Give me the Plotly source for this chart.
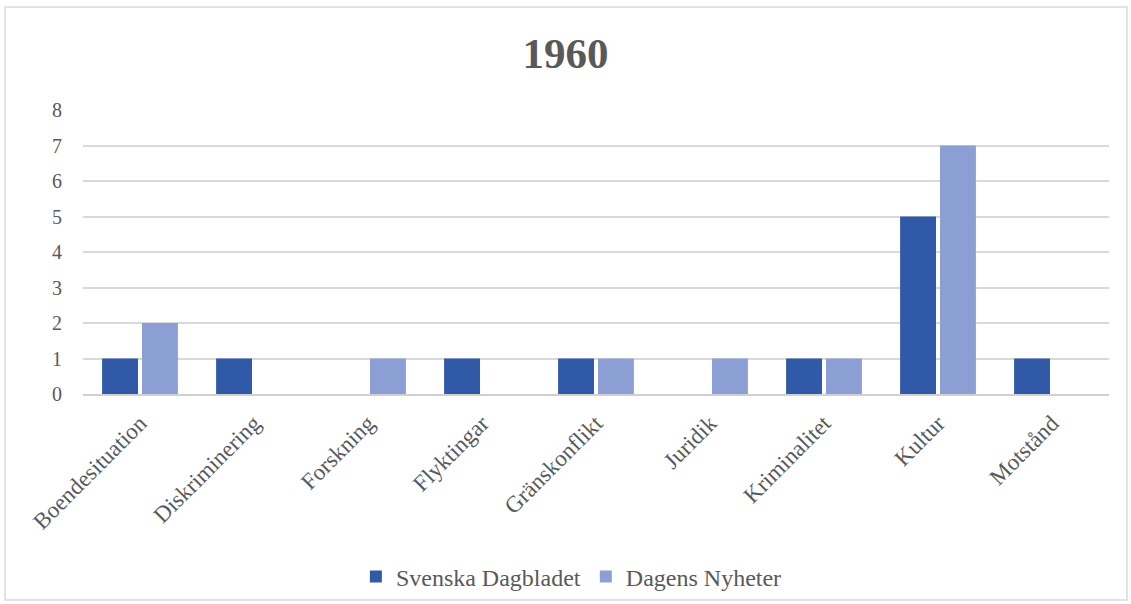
import plotly.graph_objects as go

categories = ["Boendesituation", "Diskriminering", "Forskning", "Flyktingar", "Gränskonflikt",
              "Juridik", "Kriminalitet", "Kultur", "Motstånd"]
svenska_dagbladet = [1, 1, 0, 1, 1, 0, 1, 5, 1]
dagens_nyheter = [2, 0, 1, 0, 1, 1, 1, 7, 0]
y_ticks = [0, 1, 2, 3, 4, 5, 6, 7, 8]

font_family = "Liberation Serif, Times New Roman, serif"
gray = "#595959"

fig = go.Figure()
fig.add_trace(go.Bar(name="Svenska Dagbladet", x=categories, y=svenska_dagbladet,
                     marker=dict(color="#3059a8", line=dict(width=0))))
fig.add_trace(go.Bar(name="Dagens Nyheter", x=categories, y=dagens_nyheter,
                     marker=dict(color="#8c9fd4", line=dict(width=0))))

fig.update_layout(
    width=1131, height=604,
    paper_bgcolor="white", plot_bgcolor="white",
    margin=dict(l=83, r=22, t=110, b=210),
    barmode="group", bargap=0.3, bargroupgap=0.1,
    font=dict(family=font_family, color=gray, size=20),
    title=dict(text="<b>1960</b>", x=0.5, xanchor="center", y=0.912, yanchor="middle",
               font=dict(family=font_family, size=43, color=gray)),
    showlegend=True,
    legend=dict(orientation="h", x=0.476, xanchor="center", yref="container",
                y=0.0447, yanchor="middle", bgcolor="rgba(0,0,0,0)",
                font=dict(family=font_family, size=24, color=gray), traceorder="normal"),
    xaxis=dict(tickangle=-45, showline=True, linecolor="#d0d0d0", linewidth=1.5,
               ticks="", ticklabelstandoff=5, automargin=False,
               tickfont=dict(size=23, color=gray)),
    yaxis=dict(range=[0, 8], tickvals=y_ticks, showgrid=True, gridcolor="#d9d9d9",
               gridwidth=1.5, zeroline=False, ticks="", ticklabelstandoff=20,
               automargin=False, tickfont=dict(size=20, color=gray)),
    shapes=[dict(type="rect", xref="paper", yref="paper", x0=-0.076, x1=1.0175,
                 y0=-0.725, y1=1.363, line=dict(color="#d9d9d9", width=1.5),
                 fillcolor="rgba(0,0,0,0)", layer="below")],
)

fig.write_html("out.html", config={"displayModeBar": False},
               post_script="document.body.style.margin='0';")
